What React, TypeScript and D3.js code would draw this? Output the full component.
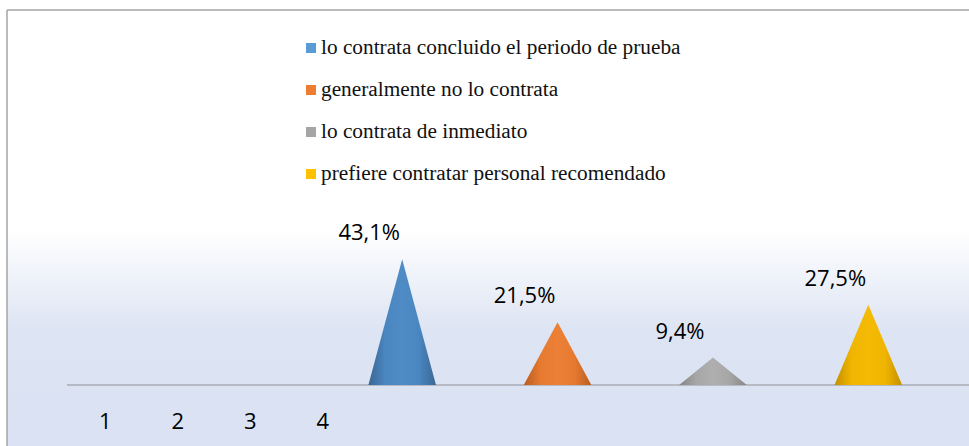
import React from "react";
import * as d3 from "d3";

const W = 969;
const H = 446;

const categories = ["1", "2", "3", "4"];
const seriesNames = [
  "lo contrata concluido el periodo de prueba",
  "generalmente no lo contrata",
  "lo contrata de inmediato",
  "prefiere contratar personal recomendado",
];
const seriesValues = [43.1, 21.5, 9.4, 27.5];
const valueLabels = ["43,1%", "21,5%", "9,4%", "27,5%"];
const seriesColors = ["#4a86c0", "#e67a30", "#a6a6a6", "#f0b500"];
const edgeColors = ["#3a6794", "#b95d20", "#858585", "#c38f00"];
const centerColors = ["#4f8cc6", "#ec8036", "#afafaf", "#f5ba04"];
const legendSwatches = ["#5b9bd5", "#ed7d31", "#a5a5a5", "#ffc000"];

export default function App() {
  const axisY = 385;
  const y = d3.scaleLinear().domain([0, 50]).range([axisY, 239]);
  const xCat = d3.scaleBand().domain(categories).range([69, 359]);
  const xSer = d3
    .scaleBand()
    .domain(seriesNames)
    .range([324.5, 946]);
  const coneW = xSer.step() * 0.435;

  const legendY = d3
    .scalePoint()
    .domain(seriesNames)
    .range([54, 180]);

  const conePath = (cx: number, v: number) => {
    const p = d3.path();
    p.moveTo(cx - coneW / 2, axisY);
    p.lineTo(cx, y(v));
    p.lineTo(cx + coneW / 2, axisY);
    p.closePath();
    return p.toString();
  };

  return (
    <svg
      width={W}
      height={H}
      style={{ position: "absolute", left: 0, top: 0, display: "block" }}
    >
      <defs>
        <linearGradient id="bg" x1="0" y1="0" x2="0" y2="1">
          <stop offset="0" stopColor="#ffffff" />
          <stop offset={String((230 - 10) / (H - 10))} stopColor="#ffffff" />
          <stop offset={String((330 - 10) / (H - 10))} stopColor="#dde4f3" />
          <stop offset="1" stopColor="#dae2f3" />
        </linearGradient>
        {seriesNames.map((s, i) => (
          <linearGradient key={s} id={`cone${i}`} x1="0" y1="0" x2="1" y2="0">
            <stop offset="0" stopColor={edgeColors[i]} />
            <stop offset="0.25" stopColor={seriesColors[i]} />
            <stop offset="0.5" stopColor={centerColors[i]} />
            <stop offset="0.75" stopColor={seriesColors[i]} />
            <stop offset="1" stopColor={edgeColors[i]} />
          </linearGradient>
        ))}
      </defs>
      <rect x={7} y={10} width={W - 7} height={H - 10} fill="url(#bg)" />
      <line x1={7} y1={10} x2={W} y2={10} stroke="#a5a5a5" strokeWidth={1.5} />
      <line x1={7} y1={10} x2={7} y2={H} stroke="#a5a5a5" strokeWidth={1.5} />

      {/* legend */}
      {seriesNames.map((s, i) => {
        const ly = legendY(s) as number;
        return (
          <g key={s}>
            <rect x={306} y={ly - 11} width={10} height={10} fill={legendSwatches[i]} />
            <text
              x={321}
              y={ly}
              fontFamily="'Liberation Serif', 'Times New Roman', serif"
              fontSize={21.3}
              fill="#111"
            >
              {s}
            </text>
          </g>
        );
      })}

      {/* axis */}
      <line x1={67} y1={axisY} x2={W} y2={axisY} stroke="#a9adb5" strokeWidth={1.5} />
      {categories.map((c) => (
        <text
          key={c}
          x={(xCat(c) as number) + xCat.bandwidth() / 2}
          y={429}
          textAnchor="middle"
          fontFamily="'Open Sans', sans-serif"
          fontSize={22}
          fill="#000"
        >
          {c}
        </text>
      ))}

      {/* cones */}
      {seriesNames.map((s, i) => {
        const cx = (xSer(s) as number) + xSer.bandwidth() / 2;
        return (
          <g key={s}>
            <path d={conePath(cx, seriesValues[i])} fill={`url(#cone${i})`} />
            <text
              x={cx - 33}
              y={y(seriesValues[i]) - 19}
              textAnchor="middle"
              fontFamily="'Open Sans', sans-serif"
              fontSize={22}
              fill="#000"
            >
              {valueLabels[i]}
            </text>
          </g>
        );
      })}
    </svg>
  );
}
